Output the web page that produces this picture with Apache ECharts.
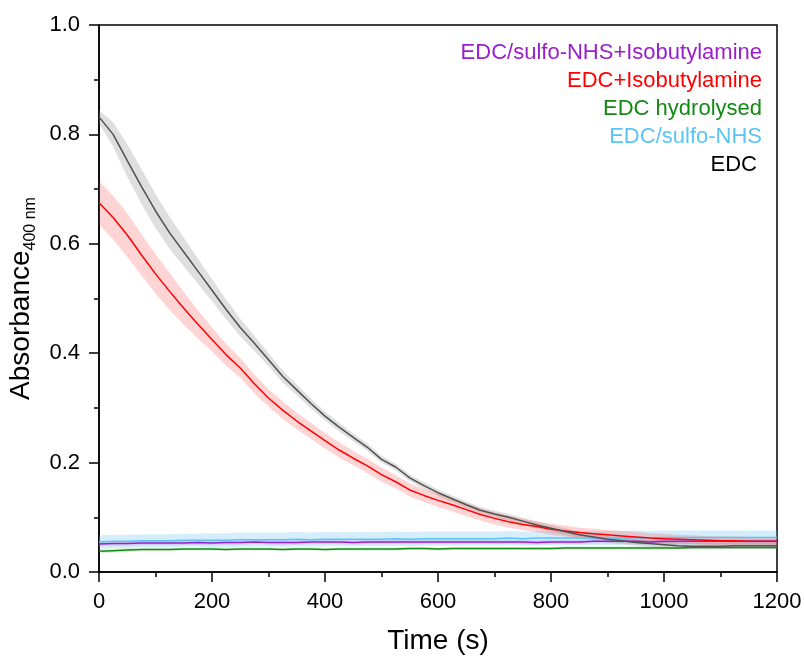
<!DOCTYPE html>
<html>
  <head>
    <meta charset="utf-8">
    <title>Absorbance vs time</title>
  </head>
  <style media="screen">
    html,body,#chart {
      margin:0;
      padding: 0;
      width: 804px;
      height: 657px;
      background: #fff;
    }
  </style>
  <body>
    <div id="chart"></div>

    <script src="https://cdn.jsdelivr.net/npm/echarts@6/dist/echarts.min.js"></script>

    <script type="text/javascript">
      // time points (s)
      var time = [0,25,50,75,100,125,150,175,200,225,250,275,300,325,350,375,400,425,450,475,500,525,550,575,600,
                  625,650,675,700,725,750,775,800,825,850,875,900,925,950,975,1000,1025,1050,1075,1100,1125,1150,1175,1200];

      // EDC
      var edc = [0.832,0.800,0.752,0.705,0.660,0.620,0.585,0.550,0.515,0.480,0.447,0.418,0.388,0.358,0.333,0.308,0.285,0.265,0.246,0.228,0.206,
                 0.192,0.172,0.158,0.145,0.134,0.123,0.113,0.106,0.100,0.093,0.086,0.080,0.074,0.068,0.064,0.060,0.057,0.054,0.052,
                 0.050,0.048,0.047,0.047,0.047,0.048,0.048,0.048,0.048];
      var edcErr = [0.012,0.022,0.030,0.032,0.031,0.029,0.026,0.023,0.020,0.018,0.016,0.014,0.012,0.011,0.010,0.009,0.008,0.008,0.007,0.007,
                    0.006,0.006,0.006,0.006,0.006,0.006,0.006,0.006,0.006,0.006,0.006,0.006,0.006,0.006,0.006,0.006,0.006,0.006,0.006,
                    0.006,0.006,0.006,0.006,0.006,0.006,0.006,0.006,0.006,0.006];

      // EDC+Isobutylamine
      var edcAmine = [0.675,0.648,0.616,0.580,0.545,0.513,0.482,0.453,0.425,0.397,0.373,0.344,0.318,0.296,0.276,0.258,0.240,0.223,0.208,0.194,
                      0.178,0.165,0.150,0.140,0.131,0.123,0.114,0.105,0.098,0.092,0.087,0.083,0.078,0.075,0.072,0.070,0.068,0.066,0.064,
                      0.062,0.061,0.060,0.059,0.058,0.057,0.057,0.056,0.056,0.056];
      var edcAmineErr = [0.040,0.040,0.040,0.038,0.036,0.034,0.030,0.026,0.022,0.020,0.018,0.017,0.016,0.016,0.015,0.015,0.014,0.014,0.013,
                         0.013,0.013,0.012,0.012,0.012,0.012,0.012,0.012,0.011,0.011,0.011,0.010,0.010,0.010,0.010,0.009,0.009,0.009,
                         0.009,0.009,0.009,0.009,0.008,0.008,0.008,0.008,0.008,0.008,0.008,0.008];

      // EDC/sulfo-NHS
      var edcNhs = [0.055,0.056,0.056,0.057,0.057,0.057,0.058,0.058,0.058,0.058,0.059,0.059,0.059,0.059,0.060,0.059,0.060,0.060,0.060,0.060,
                    0.060,0.061,0.060,0.061,0.061,0.061,0.061,0.061,0.061,0.062,0.061,0.062,0.062,0.062,0.062,0.062,0.062,0.062,0.063,
                    0.062,0.063,0.063,0.063,0.063,0.063,0.063,0.063,0.063,0.063];
      var edcNhsErr = [0.012,0.012,0.012,0.012,0.012,0.012,0.012,0.012,0.013,0.013,0.013,0.013,0.013,0.013,0.013,0.013,0.013,0.013,0.013,
                       0.013,0.013,0.013,0.013,0.013,0.013,0.013,0.013,0.013,0.013,0.013,0.013,0.013,0.013,0.013,0.013,0.013,0.013,
                       0.013,0.013,0.013,0.013,0.013,0.013,0.013,0.013,0.013,0.013,0.013,0.013];

      // EDC/sulfo-NHS+Isobutylamine
      var edcNhsAmine = [0.051,0.052,0.052,0.053,0.053,0.053,0.053,0.054,0.053,0.054,0.054,0.055,0.054,0.054,0.054,0.055,0.055,0.055,0.054,
                         0.055,0.055,0.055,0.055,0.055,0.055,0.055,0.055,0.055,0.055,0.055,0.055,0.054,0.055,0.055,0.055,0.056,0.056,
                         0.056,0.056,0.055,0.056,0.056,0.056,0.056,0.056,0.056,0.056,0.056,0.056];
      var edcNhsAmineErr = [0.004,0.004,0.004,0.004,0.004,0.004,0.004,0.004,0.004,0.004,0.004,0.004,0.004,0.004,0.004,0.004,0.004,0.004,
                            0.004,0.004,0.004,0.004,0.004,0.004,0.004,0.004,0.004,0.004,0.004,0.004,0.004,0.004,0.004,0.004,0.004,
                            0.004,0.004,0.004,0.004,0.004,0.004,0.004,0.004,0.004,0.004,0.004,0.004,0.004,0.004];

      // EDC hydrolysed
      var edcHyd = [0.038,0.039,0.040,0.041,0.041,0.041,0.042,0.042,0.042,0.041,0.042,0.042,0.042,0.041,0.042,0.042,0.041,0.042,0.042,0.042,
                    0.042,0.042,0.043,0.043,0.042,0.043,0.043,0.043,0.043,0.043,0.043,0.043,0.043,0.044,0.044,0.044,0.044,0.044,0.044,
                    0.044,0.044,0.044,0.045,0.045,0.045,0.045,0.045,0.045,0.045];
      var edcHydErr = [0.004,0.004,0.004,0.003,0.003,0.003,0.003,0.003,0.003,0.003,0.003,0.003,0.003,0.003,0.003,0.003,0.003,0.003,0.003,
                       0.003,0.003,0.003,0.003,0.003,0.003,0.003,0.003,0.003,0.003,0.003,0.003,0.003,0.003,0.003,0.003,0.003,0.003,
                       0.003,0.003,0.003,0.003,0.003,0.003,0.003,0.003,0.003,0.003,0.003,0.003];

      var legendNames = ['EDC/sulfo-NHS+Isobutylamine','EDC+Isobutylamine','EDC hydrolysed','EDC/sulfo-NHS','EDC'];
      var legendColors = ['#9a1fc9','#ff0000','#138a13','#5ac4f6','#000000'];

      var font = '"Liberation Sans", Arial, sans-serif';

      function pairs(y) {
        return time.map(function (t, i) { return [t, y[i]]; });
      }

      // shaded band (mean +/- err) drawn as one polygon through the axis scales
      function band(mean, err, fill) {
        return {
          type: 'custom', z: 1, silent: true, clip: true,
          data: [[0, 0]],
          renderItem: function (params, api) {
            var pts = [];
            for (var i = 0; i < time.length; i++) pts.push(api.coord([time[i], mean[i] + err[i]]));
            for (var j = time.length - 1; j >= 0; j--) pts.push(api.coord([time[j], mean[j] - err[j]]));
            return {type: 'polygon', shape: {points: pts}, style: {fill: fill}};
          }
        };
      }

      function line(mean, color) {
        return {
          type: 'line', data: pairs(mean), symbol: 'none', z: 3,
          lineStyle: {color: color, width: 1.5}
        };
      }

      var series = [
        band(edcNhs, edcNhsErr, 'rgba(120,200,245,0.3)'),
        band(edcNhsAmine, edcNhsAmineErr, 'rgba(170,90,220,0.2)'),
        band(edcHyd, edcHydErr, 'rgba(40,160,40,0.15)'),
        band(edc, edcErr, 'rgba(150,150,150,0.3)'),
        band(edcAmine, edcAmineErr, 'rgba(255,60,60,0.22)'),
        line(edcNhs, '#5ac4f6'),
        line(edcHyd, '#138a13'),
        line(edcNhsAmine, '#9a1fc9'),
        line(edcAmine, '#ff0000'),
        line(edc, '#505050')
      ];

      var chart = echarts.init(document.getElementById('chart'));
      chart.setOption({
        animation: false,
        backgroundColor: '#fff',
        grid: {
          left: 99, right: 27, top: 25, bottom: 85,
          outerBoundsMode: 'none',
          show: true, borderColor: '#000', borderWidth: 1.5
        },
        xAxis: {
          type: 'value', min: 0, max: 1200, interval: 200,
          name: 'Time (s)', nameLocation: 'middle', nameGap: 55,
          nameTextStyle: {fontFamily: font, fontSize: 28, color: '#000'},
          axisLine: {lineStyle: {color: '#000', width: 1.5}},
          axisTick: {length: 10, lineStyle: {color: '#000', width: 1.5}},
          minorTick: {show: true, splitNumber: 2, length: 5, lineStyle: {color: '#000', width: 1.5}},
          splitLine: {show: false},
          axisLabel: {
            fontFamily: font, fontSize: 22, color: '#000', margin: 19,
            formatter: function (v) { return String(v); }
          }
        },
        yAxis: {
          type: 'value', min: 0, max: 1.0, interval: 0.2,
          name: '{a|Absorbance}{b|400 nm}', nameLocation: 'middle', nameGap: 46,
          nameTextStyle: {
            fontFamily: font, color: '#000',
            rich: {
              a: {fontFamily: font, fontSize: 28, color: '#000', lineHeight: 34},
              b: {fontFamily: font, fontSize: 16, color: '#000', lineHeight: 14, verticalAlign: 'bottom'}
            }
          },
          axisLine: {lineStyle: {color: '#000', width: 1.5}},
          axisTick: {length: 10, lineStyle: {color: '#000', width: 1.5}},
          minorTick: {show: true, splitNumber: 2, length: 5, lineStyle: {color: '#000', width: 1.5}},
          splitLine: {show: false},
          axisLabel: {
            fontFamily: font, fontSize: 22, color: '#000', margin: 19,
            formatter: function (v) { return v.toFixed(1); }
          }
        },
        graphic: legendNames.map(function (name, i) {
          return {
            type: 'text', z: 10, right: i === 4 ? 47 : 42, top: 42 + i * 28,
            style: {text: name, fill: legendColors[i], font: '22px ' + font}
          };
        }),
        series: series
      });
    </script>
  </body>
</html>
